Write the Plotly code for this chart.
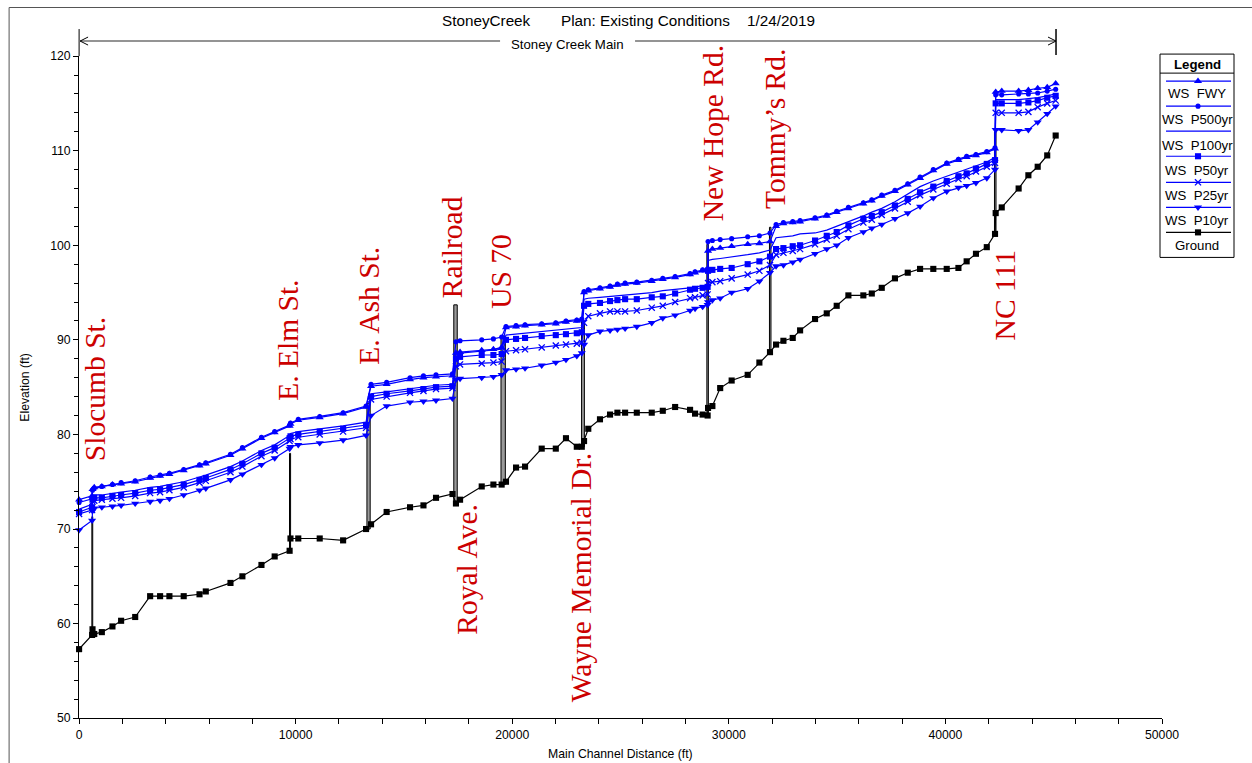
import plotly.graph_objects as go

W, H = 1252, 763

# River stations (ft) of the cross sections along the main channel
stations = [
    0, 600, 620, 700, 1050, 1540, 1940, 2590, 3280, 3740, 4170, 4830, 5560, 5850,
    6990, 7540, 8420, 9030, 9720, 9760, 10120, 11110, 12190, 13250, 13480, 14200,
    15280, 15900, 16480, 17240, 17400, 17590, 18590, 19130, 19510, 19710, 20175,
    20590, 21360, 22010, 22480, 22980, 23210, 23315, 23510, 24050, 24515, 24855,
    25210, 25750, 26440, 26950, 27520, 28210, 28440, 28790, 29020, 29040, 29240,
    29600, 30130, 30870, 31410, 31900, 32180, 32520, 32950, 33290, 33980, 34520,
    34980, 35520, 36210, 36600, 37060, 37670, 38260, 38830, 39440, 40060, 40600,
    40980, 41410, 41910, 42290, 42320, 42600, 43380, 43830, 44260, 44700, 45090,
]

ground = [
    57.3, 58.8, 59.4, 58.9, 59.1, 59.7, 60.3, 60.7, 62.9, 62.9, 62.9, 62.9, 63.1, 63.4,
    64.3, 65.0, 66.2, 67.1, 67.7, 69.0, 69.0, 69.0, 68.8, 70.0, 70.5, 71.8,
    72.3, 72.5, 73.3, 73.7, 72.7, 73.1, 74.5, 74.7, 74.7, 75.0, 76.5,
    76.6, 78.5, 78.5, 79.6, 78.7, 78.7, 79.3, 80.6, 81.6, 82.1, 82.3,
    82.3, 82.3, 82.3, 82.5, 82.9, 82.6, 82.2, 82.1, 82.0, 82.8, 83.0,
    84.9, 85.7, 86.3, 87.6, 88.7, 89.5, 89.9, 90.2, 91.0, 92.2, 92.8,
    93.6, 94.7, 94.7, 94.9, 95.5, 96.5, 97.1, 97.5, 97.5, 97.5, 97.6,
    98.3, 99.1, 99.8, 101.2, 103.4, 104.0, 106.0, 107.4, 108.3, 109.5, 111.6,
]

ws_fwy = [
    73.1, 73.5, 74.2, 74.4,
    74.5, 74.7, 74.8, 75.0, 75.4, 75.6, 75.8, 76.2, 76.7, 76.9, 77.8, 78.5, 79.6, 80.2, 80.9,
    81.1, 81.5, 81.8, 82.2, 82.9,
    85.1, 85.3, 85.8, 86.0, 86.1, 86.2,
    88.6, 88.7, 88.9, 89.0, 89.2,
    91.3, 91.4, 91.5, 91.6, 91.7, 91.9, 92.0, 92.1,
    95.0, 95.2, 95.4, 95.6, 95.8, 95.9, 96.0, 96.2, 96.4, 96.6, 96.9, 97.1, 97.3, 97.4,
    99.4, 99.6, 99.7, 99.9, 100.1, 100.2, 100.4,
    102.0, 102.3, 102.4, 102.5, 102.8, 103.1, 103.5, 103.9, 104.4, 104.7, 105.2, 105.7,
    106.4, 107.1, 107.9, 108.6, 109.0, 109.3, 109.5, 109.8, 110.2,
    116.2, 116.3, 116.3, 116.4, 116.6, 116.7, 117.1,
]

ws_p500 = [
    72.8, 73.2, 74.1, 74.3,
    74.5, 74.7, 74.9, 75.1, 75.5, 75.7, 75.9, 76.3, 76.8, 77.0, 77.9, 78.6, 79.7, 80.3, 81.0,
    81.2, 81.6, 81.9, 82.3, 83.0,
    85.3, 85.5, 86.0, 86.2, 86.3, 86.4,
    89.8, 89.9, 90.0, 90.1, 90.3,
    91.4, 91.5, 91.6, 91.7, 91.8, 92.0, 92.1, 92.2,
    95.1, 95.3, 95.5, 95.7, 95.9, 96.0, 96.1, 96.3, 96.5, 96.7, 97.0, 97.2, 97.4, 97.5,
    100.4, 100.5, 100.6, 100.7, 100.9, 101.0, 101.3,
    102.2, 102.4, 102.5, 102.6, 102.9, 103.2, 103.6, 104.0, 104.5, 104.8, 105.3, 105.8,
    106.5, 107.2, 108.0, 108.7, 109.1, 109.4, 109.6, 109.9, 110.3,
    115.9, 115.9, 116.0, 116.0, 116.1, 116.3, 116.5,
]

ws_p100 = [
    72.1, 72.6, 73.4, 73.6,
    73.6, 73.8, 73.9, 74.1, 74.4, 74.5, 74.7, 75.0, 75.5, 75.7, 76.6, 77.2, 78.3, 78.9, 79.9,
    80.1, 80.3, 80.6, 80.9, 81.3,
    84.3, 84.5, 84.8, 85.0, 85.2, 85.3,
    88.5, 88.6, 88.8, 88.9, 89.0,
    90.5, 90.6, 90.7, 90.9, 91.0, 91.1, 91.2, 91.3,
    94.3, 94.4, 94.5, 94.6, 94.7, 94.8, 94.9, 95.0, 95.2, 95.3, 95.5, 95.6, 95.7, 95.8,
    98.4, 98.5, 98.6, 98.8, 99.0, 99.2, 99.5,
    100.8, 100.9, 101.0, 101.2, 101.3, 101.6, 102.0, 102.5, 103.1, 103.5, 103.9, 104.6,
    105.4, 106.2, 106.8, 107.3, 107.7, 108.0, 108.4, 108.8, 109.3,
    115.4, 115.4, 115.4, 115.5, 115.6, 115.8, 116.0,
]

ws_p50 = [
    71.8, 72.3, 73.1, 73.3,
    73.3, 73.5, 73.6, 73.8, 74.1, 74.2, 74.4, 74.7, 75.2, 75.4, 76.3, 76.9, 78.0, 78.6, 79.6,
    79.8, 80.0, 80.3, 80.6, 81.0,
    84.0, 84.3, 84.6, 84.8, 85.0, 85.1,
    88.0, 88.2, 88.4, 88.4, 88.5,
    90.0, 90.1, 90.2, 90.4, 90.5, 90.6, 90.7, 90.8,
    93.6, 93.8, 93.9, 94.1, 94.2, 94.3, 94.3, 94.5, 94.6, 94.9, 95.3, 95.4, 95.5, 95.6,
    97.3, 97.4, 97.5, 97.6, 98.0, 98.3, 98.8,
    99.6, 99.7, 99.9, 100.0, 100.5, 101.0, 101.4, 102.1, 102.8, 103.1, 103.5, 104.2,
    104.9, 105.6, 106.2, 106.8, 107.3, 107.6, 108.1, 108.6, 109.0,
    115.0, 115.0, 115.0, 115.1, 115.3, 115.6, 115.8,
]

ws_p25 = [
    71.6, 72.0, 72.9, 73.0,
    73.1, 73.2, 73.3, 73.5, 73.8, 73.9, 74.1, 74.4, 74.9, 75.1, 76.0, 76.6, 77.7, 78.3, 79.3,
    79.5, 79.7, 80.0, 80.3, 80.7,
    83.7, 84.0, 84.4, 84.6, 84.8, 84.9,
    87.2, 87.4, 87.5, 87.6, 87.7,
    88.8, 88.9, 89.0, 89.2, 89.4, 89.5, 89.6, 89.7,
    91.8, 92.5, 92.8, 93.0, 93.0, 93.0, 93.1, 93.4, 93.6, 94.0, 94.4, 94.5, 94.7, 94.8,
    96.0, 96.1, 96.2, 96.5, 96.9, 97.3, 97.9,
    99.0, 99.2, 99.4, 99.6, 100.1, 100.6, 101.0, 101.7, 102.4, 102.7, 103.2, 103.9,
    104.6, 105.3, 105.9, 106.5, 107.0, 107.3, 107.8, 108.3, 108.7,
    114.0, 114.0, 114.0, 114.1, 114.6, 115.0, 115.3,
]

ws_p10 = [
    69.9, 70.9, 71.9, 72.2,
    72.3, 72.4, 72.5, 72.7, 72.9, 73.0, 73.2, 73.6, 74.1, 74.3, 75.2, 75.8, 76.8, 77.5, 78.5,
    78.7, 78.9, 79.1, 79.4, 79.9,
    82.0, 83.0, 83.4, 83.5, 83.6, 83.8,
    85.8, 85.9, 86.0, 86.1, 86.3,
    86.8, 86.9, 87.0, 87.3, 87.6, 87.9, 88.3, 88.6,
    89.5, 90.5, 90.9, 91.0, 91.1, 91.2, 91.4, 91.8, 92.3, 92.6, 93.1, 93.3, 93.5, 93.7,
    94.0, 94.2, 94.4, 95.0, 95.4, 96.2, 97.1,
    97.8, 97.9, 98.2, 98.5, 99.1, 99.6, 100.0, 100.8, 101.4, 101.8, 102.2, 102.8,
    103.4, 104.1, 105.0, 105.7, 106.1, 106.3, 106.6, 107.1, 108.0,
    112.2, 112.2, 112.1, 112.2, 113.0, 113.9, 114.7,
]

# Bridge decks: downstream / upstream station and low / high elevation
bridge_dn = [590, 9715, 13290, 17300, 19480, 23200, 28985, 31875, 42265]
bridge_up = [630, 9765, 13440, 17460, 19680, 23330, 29055, 31945, 42335]
bridge_low = [58.8, 67.7, 70.0, 72.7, 74.7, 78.7, 82.0, 88.7, 101.2]
bridge_high = [71.3, 78.0, 83.3, 93.7, 90.4, 92.0, 100.1, 101.9, 112.0]

# Crossing names written along the profile
road_names = ["Slocumb St.", "E. Elm St.", "E. Ash St.", "Railroad", "US 70",
              "Royal Ave.", "Wayne Memorial Dr.", "New Hope Rd.", "Tommy\u2019s Rd.", "NC 111"]
road_x = [739, 9649, 13389, 17220, 19483, 17913, 23176, 29248, 32133, 42751]
road_y = [84.8, 89.9, 93.6, 99.8, 97.2, 65.7, 64.8, 111.8, 112.3, 94.7]

x_ticks = [0, 10000, 20000, 30000, 40000, 50000]
y_ticks = [50, 60, 70, 80, 90, 100, 110, 120]

BLUE = "#0000FF"
SANS = "Liberation Sans, Arial, sans-serif"
SERIF = "Liberation Serif, Times New Roman, serif"

# Screen placement of the drawing surface: offset (px) and scale per direction.
OX, SX = 2.9, 0.9841
OY, SY = 8.0, 0.980
FS = 1.0 / ((SX + SY) / 2.0)   # font / marker size compensation

profiles = [
    ("WS\u00a0\u00a0FWY", ws_fwy, "triangle-up", 7),
    ("WS\u00a0\u00a0P500yr", ws_p500, "circle", 5),
    ("WS\u00a0\u00a0P100yr", ws_p100, None, 0),
    ("WS\u00a0\u00a0P50yr", ws_p50, "square", 6),
    ("WS\u00a0\u00a0P25yr", ws_p25, "x-thin", 6),
    ("WS\u00a0\u00a0P10yr", ws_p10, "triangle-down", 7),
]


def fx(p):
    """screen x pixel -> paper fraction"""
    return ((p - OX) / SX) / W


def fy(p):
    """screen y pixel (from top) -> paper fraction"""
    return 1 - ((p - OY) / SY) / H


def fs(size):
    return round(size * FS, 2)


fig = go.Figure()

# bridge decks
for x0, x1, lo, hi in zip(bridge_dn, bridge_up, bridge_low, bridge_high):
    fig.add_trace(go.Scatter(
        x=[x0, x0, x1, x1, x0], y=[lo, hi, hi, lo, lo],
        mode="lines", fill="toself", fillcolor="#9a9a9a",
        line=dict(color="black", width=1), hoverinfo="skip", showlegend=False))

# ground profile
fig.add_trace(go.Scatter(
    x=stations, y=ground, mode="lines+markers", name="Ground",
    line=dict(color="black", width=1.2),
    marker=dict(symbol="square", size=fs(6), color="black"),
    cliponaxis=False, showlegend=False))

# water surface profiles
for name, vals, sym, size in profiles:
    if sym is None:
        fig.add_trace(go.Scatter(x=stations, y=vals, mode="lines", name=name,
                                 line=dict(color=BLUE, width=1.2), showlegend=False))
    else:
        mk = dict(symbol=sym, size=fs(size), color=BLUE)
        if sym == "x-thin":
            mk["line"] = dict(color=BLUE, width=1.3)
        fig.add_trace(go.Scatter(x=stations, y=vals, mode="lines+markers", name=name,
                                 line=dict(color=BLUE, width=1.2), marker=mk,
                                 cliponaxis=False, showlegend=False))

# legend box (screen px); its samples are drawn on a small axis pair in the same units
legend_items = [(p[0], p[2], p[3], BLUE) for p in profiles] + [("Ground", "square", 6, "black")]
leg_left, leg_right, leg_top, leg_bot = 1160, 1234, 55, 258
leg_mid = (leg_left + leg_right) / 2
row_line_px = [82, 107, 132, 157, 183, 208, 233]
row_text_px = [94, 120, 146, 171, 196, 221, 246]

leg_dom_x = [fx(leg_left), min(1.0, fx(leg_right))]
leg_dom_y = [fy(leg_bot), fy(leg_top)]
leg_rng_x = [leg_left, OX + SX * W * leg_dom_x[1]]

for i, (name, sym, size, col) in enumerate(legend_items):
    yy = row_line_px[i]
    fig.add_trace(go.Scatter(x=[leg_left + 6, leg_right - 3], y=[yy, yy], mode="lines",
                             line=dict(color=col, width=1.2), xaxis="x2", yaxis="y2",
                             hoverinfo="skip", showlegend=False))
    if sym is not None:
        mk = dict(symbol=sym, size=fs(size), color=col)
        if sym == "x-thin":
            mk["line"] = dict(color=col, width=1.3)
        fig.add_trace(go.Scatter(x=[leg_mid + 1], y=[yy], mode="markers", marker=mk,
                                 xaxis="x2", yaxis="y2", cliponaxis=False,
                                 hoverinfo="skip", showlegend=False))

annotations = []
for i, (name, _, _, _) in enumerate(legend_items):
    annotations.append(dict(x=fx(leg_mid), y=fy(row_text_px[i]), xref="paper", yref="paper",
                            text=name, showarrow=False, xanchor="center", yanchor="middle",
                            font=dict(family=SANS, size=fs(13), color="black")))
annotations.append(dict(x=fx(leg_mid), y=fy(65), xref="paper", yref="paper",
                        text="<b>Legend</b>", showarrow=False, xanchor="center",
                        yanchor="middle", font=dict(family=SANS, size=fs(13), color="black")))

# header texts
for txt, cx in [("StoneyCreek", 486), ("Plan: Existing Conditions", 645), ("1/24/2019", 781)]:
    annotations.append(dict(x=fx(cx), y=fy(21), xref="paper", yref="paper", text=txt,
                            showarrow=False, xanchor="center", yanchor="middle",
                            font=dict(family=SANS, size=fs(15), color="black")))
annotations.append(dict(x=fx(567), y=fy(45), xref="paper", yref="paper",
                        text="Stoney Creek Main", showarrow=False, xanchor="center",
                        yanchor="middle", font=dict(family=SANS, size=fs(13), color="black")))

# axis titles
annotations.append(dict(x=fx(620), y=fy(754), xref="paper", yref="paper",
                        text="Main Channel Distance (ft)", showarrow=False,
                        xanchor="center", yanchor="middle",
                        font=dict(family=SANS, size=fs(12), color="black")))
annotations.append(dict(x=fx(25), y=fy(388), xref="paper", yref="paper",
                        text="Elevation (ft)", showarrow=False, textangle=-90,
                        xanchor="center", yanchor="middle",
                        font=dict(family=SANS, size=fs(12), color="black")))

# crossing labels
for name, x, y in zip(road_names, road_x, road_y):
    annotations.append(dict(x=x, y=y, xref="x", yref="y", text=name, showarrow=False,
                            textangle=-90, xanchor="center", yanchor="middle",
                            font=dict(family=SERIF, size=fs(29), color="#CC0000")))

shapes = []


def seg(x0, y0, x1, y1, color="black", width=1):
    shapes.append(dict(type="line", xref="paper", yref="paper",
                       x0=fx(x0), y0=fy(y0), x1=fx(x1), y1=fy(y1),
                       line=dict(color=color, width=width)))


# outer frame
seg(9, 8.5, 1252, 8.5, "#555555", 1)
seg(9, 8.5, 9, 763, "#555555", 1)
# y axis extension and reach bracket
seg(79, 30, 79, 57)
seg(79, 42, 500, 42, "#707070", 1.5)
seg(635, 42, 1056, 42, "#707070", 1.5)
seg(80, 42, 88, 38)
seg(80, 42, 88, 46)
seg(1056, 42, 1048, 38)
seg(1056, 42, 1048, 46)
seg(1056, 30, 1056, 56, "black", 1.5)
# legend frame
shapes.append(dict(type="rect", xref="paper", yref="paper",
                   x0=fx(leg_left), x1=fx(leg_right), y0=fy(leg_bot), y1=fy(leg_top),
                   line=dict(color="black", width=1), fillcolor="rgba(0,0,0,0)"))
seg(leg_left, 74, leg_right, 74)

fig.update_layout(
    width=W, height=H,
    margin=dict(l=0, r=0, t=0, b=0),
    paper_bgcolor="white", plot_bgcolor="white",
    showlegend=False,
    font=dict(family=SANS, size=fs(12), color="black"),
    xaxis=dict(domain=[fx(79), fx(1162)], range=[0, 50000], tickvals=x_ticks,
               ticktext=[str(v) for v in x_ticks], ticks="outside", ticklen=5,
               tickcolor="black", showline=True, linecolor="black", linewidth=1,
               showgrid=False, zeroline=False,
               minor=dict(dtick=2000, tick0=0, ticks="outside", ticklen=5, tickcolor="black"),
               tickfont=dict(family=SANS, size=fs(12)), anchor="y"),
    yaxis=dict(domain=[fy(718), fy(57)], range=[50, 120], tickvals=y_ticks,
               ticktext=[str(v) for v in y_ticks], ticks="outside", ticklen=5,
               tickcolor="black", showline=True, linecolor="black", linewidth=1,
               showgrid=False, zeroline=False,
               minor=dict(dtick=2, tick0=50, ticks="outside", ticklen=4, tickcolor="black"),
               tickfont=dict(family=SANS, size=fs(12)), anchor="x"),
    xaxis2=dict(domain=leg_dom_x, range=leg_rng_x, visible=False, anchor="y2"),
    yaxis2=dict(domain=leg_dom_y, range=[leg_bot, leg_top], visible=False, anchor="x2"),
    annotations=annotations,
    shapes=shapes,
)

fig.write_html("out.html")
